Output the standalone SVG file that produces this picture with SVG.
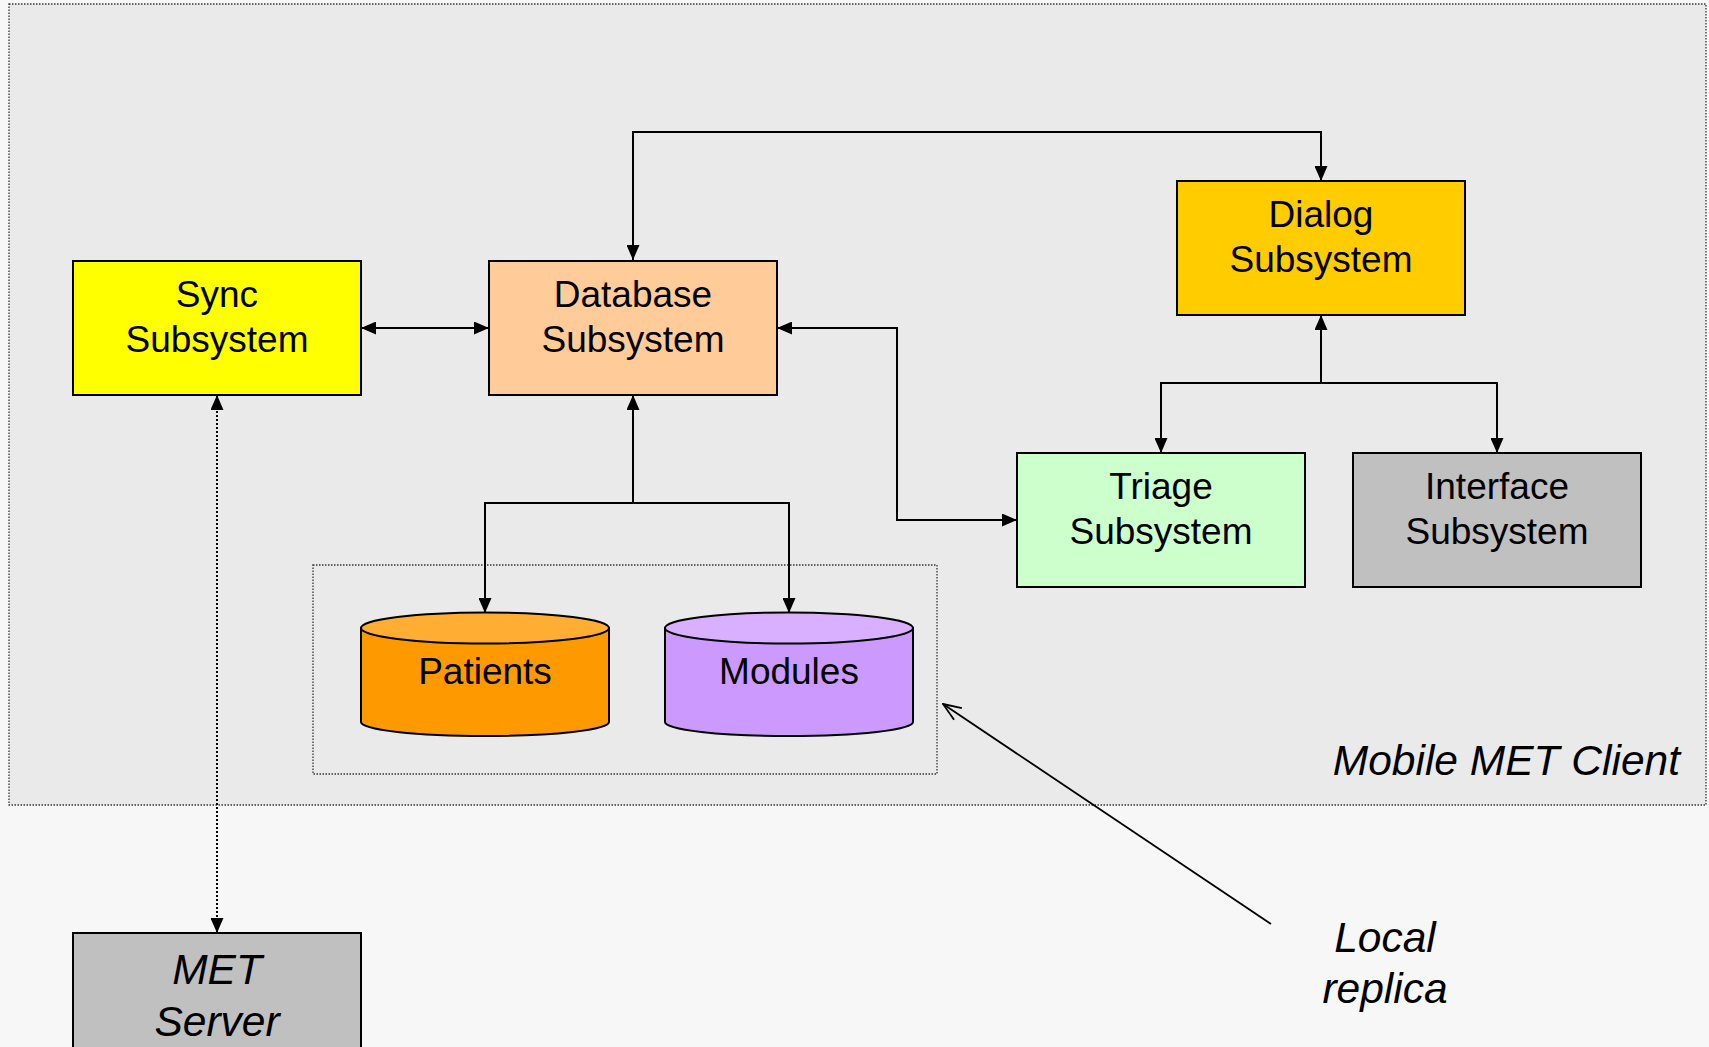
<svg xmlns="http://www.w3.org/2000/svg" width="1709" height="1047" viewBox="0 0 1709 1047">
<style>
.box{stroke:#000;stroke-width:2}
.t{font-family:"Liberation Sans",Arial,sans-serif;font-size:37px;text-anchor:middle;fill:#000}
.ti{font-family:"Liberation Sans",Arial,sans-serif;font-size:42.5px;font-style:italic;fill:#000}
.c{fill:none;stroke:#000;stroke-width:2}
.dot{stroke:#333;stroke-width:1.3;stroke-dasharray:1.5 1.5}
</style>
<defs>
<marker id="ah" viewBox="0 0 15 13" refX="15" refY="6.5" markerWidth="15" markerHeight="13" orient="auto-start-reverse" markerUnits="userSpaceOnUse"><path d="M0,0 L15,6.5 L0,13 z" fill="#000"/></marker>
<marker id="oa" viewBox="0 0 20 16" refX="19" refY="8" markerWidth="20" markerHeight="16" orient="auto" markerUnits="userSpaceOnUse"><path d="M1,1 L19,8 L1,15" fill="none" stroke="#000" stroke-width="1.8"/></marker>
</defs>
<rect x="0" y="0" width="1709" height="1047" fill="#F7F7F7"/>
<g id="client">
<rect x="9" y="4" width="1697" height="801" fill="#EAEAEA" class="dot"/>
<text class="ti" x="1680" y="775" text-anchor="end">Mobile MET Client</text>
</g>
<g id="replica-box">
<rect x="313" y="565" width="624" height="209" fill="none" class="dot"/>
</g>
<g id="connectors">
<line x1="361" y1="328" x2="489" y2="328" class="c" marker-start="url(#ah)" marker-end="url(#ah)"/>
<path d="M633,260 V132 H1321 V181" class="c" marker-start="url(#ah)" marker-end="url(#ah)"/>
<path d="M777,328 H897 V520 H1017" class="c" marker-start="url(#ah)" marker-end="url(#ah)"/>
<path d="M633,395 V503" class="c" marker-start="url(#ah)"/>
<path d="M485,613 V503 H789 V613" class="c" marker-start="url(#ah)" marker-end="url(#ah)"/>
<path d="M1321,315 V383" class="c" marker-start="url(#ah)"/>
<path d="M1161,453 V383 H1497 V453" class="c" marker-start="url(#ah)" marker-end="url(#ah)"/>
<path d="M217,395 V933" fill="none" stroke="#000" stroke-width="2" stroke-dasharray="2 2" marker-start="url(#ah)" marker-end="url(#ah)"/>
<line x1="1271" y1="924" x2="943" y2="704" stroke="#000" stroke-width="1.8" marker-end="url(#oa)"/>
</g>
<g id="sync">
<rect x="73" y="261" width="288" height="134" fill="#FFFF00" class="box"/>
<text class="t" x="217" y="307">Sync</text>
<text class="t" x="217" y="352">Subsystem</text>
</g>
<g id="database">
<rect x="489" y="261" width="288" height="134" fill="#FFCC99" class="box"/>
<text class="t" x="633" y="307">Database</text>
<text class="t" x="633" y="352">Subsystem</text>
</g>
<g id="dialog">
<rect x="1177" y="181" width="288" height="134" fill="#FFCC00" class="box"/>
<text class="t" x="1321" y="227">Dialog</text>
<text class="t" x="1321" y="272">Subsystem</text>
</g>
<g id="triage">
<rect x="1017" y="453" width="288" height="134" fill="#CCFFCC" class="box"/>
<text class="t" x="1161" y="499">Triage</text>
<text class="t" x="1161" y="544">Subsystem</text>
</g>
<g id="interface">
<rect x="1353" y="453" width="288" height="134" fill="#C0C0C0" class="box"/>
<text class="t" x="1497" y="499">Interface</text>
<text class="t" x="1497" y="544">Subsystem</text>
</g>
<g id="patients">
<path d="M361,628 V722 A124,14 0 0 0 609,722 V628 Z" fill="#FF9900" class="box"/>
<ellipse cx="485" cy="628" rx="124" ry="15.5" fill="#FFAD33" class="box"/>
<text class="t" x="485" y="684">Patients</text>
</g>
<g id="modules">
<path d="M665,628 V722 A124,14 0 0 0 913,722 V628 Z" fill="#CC99FF" class="box"/>
<ellipse cx="789" cy="628" rx="124" ry="15.5" fill="#D9B0FF" class="box"/>
<text class="t" x="789" y="684">Modules</text>
</g>
<g id="server">
<rect x="73" y="933" width="288" height="130" fill="#C0C0C0" class="box"/>
<text class="ti" x="217" y="984" text-anchor="middle">MET</text>
<text class="ti" x="217" y="1036" text-anchor="middle">Server</text>
</g>
<g id="local-replica">
<text class="ti" x="1385" y="952" text-anchor="middle">Local</text>
<text class="ti" x="1385" y="1003" text-anchor="middle">replica</text>
</g>
</svg>
